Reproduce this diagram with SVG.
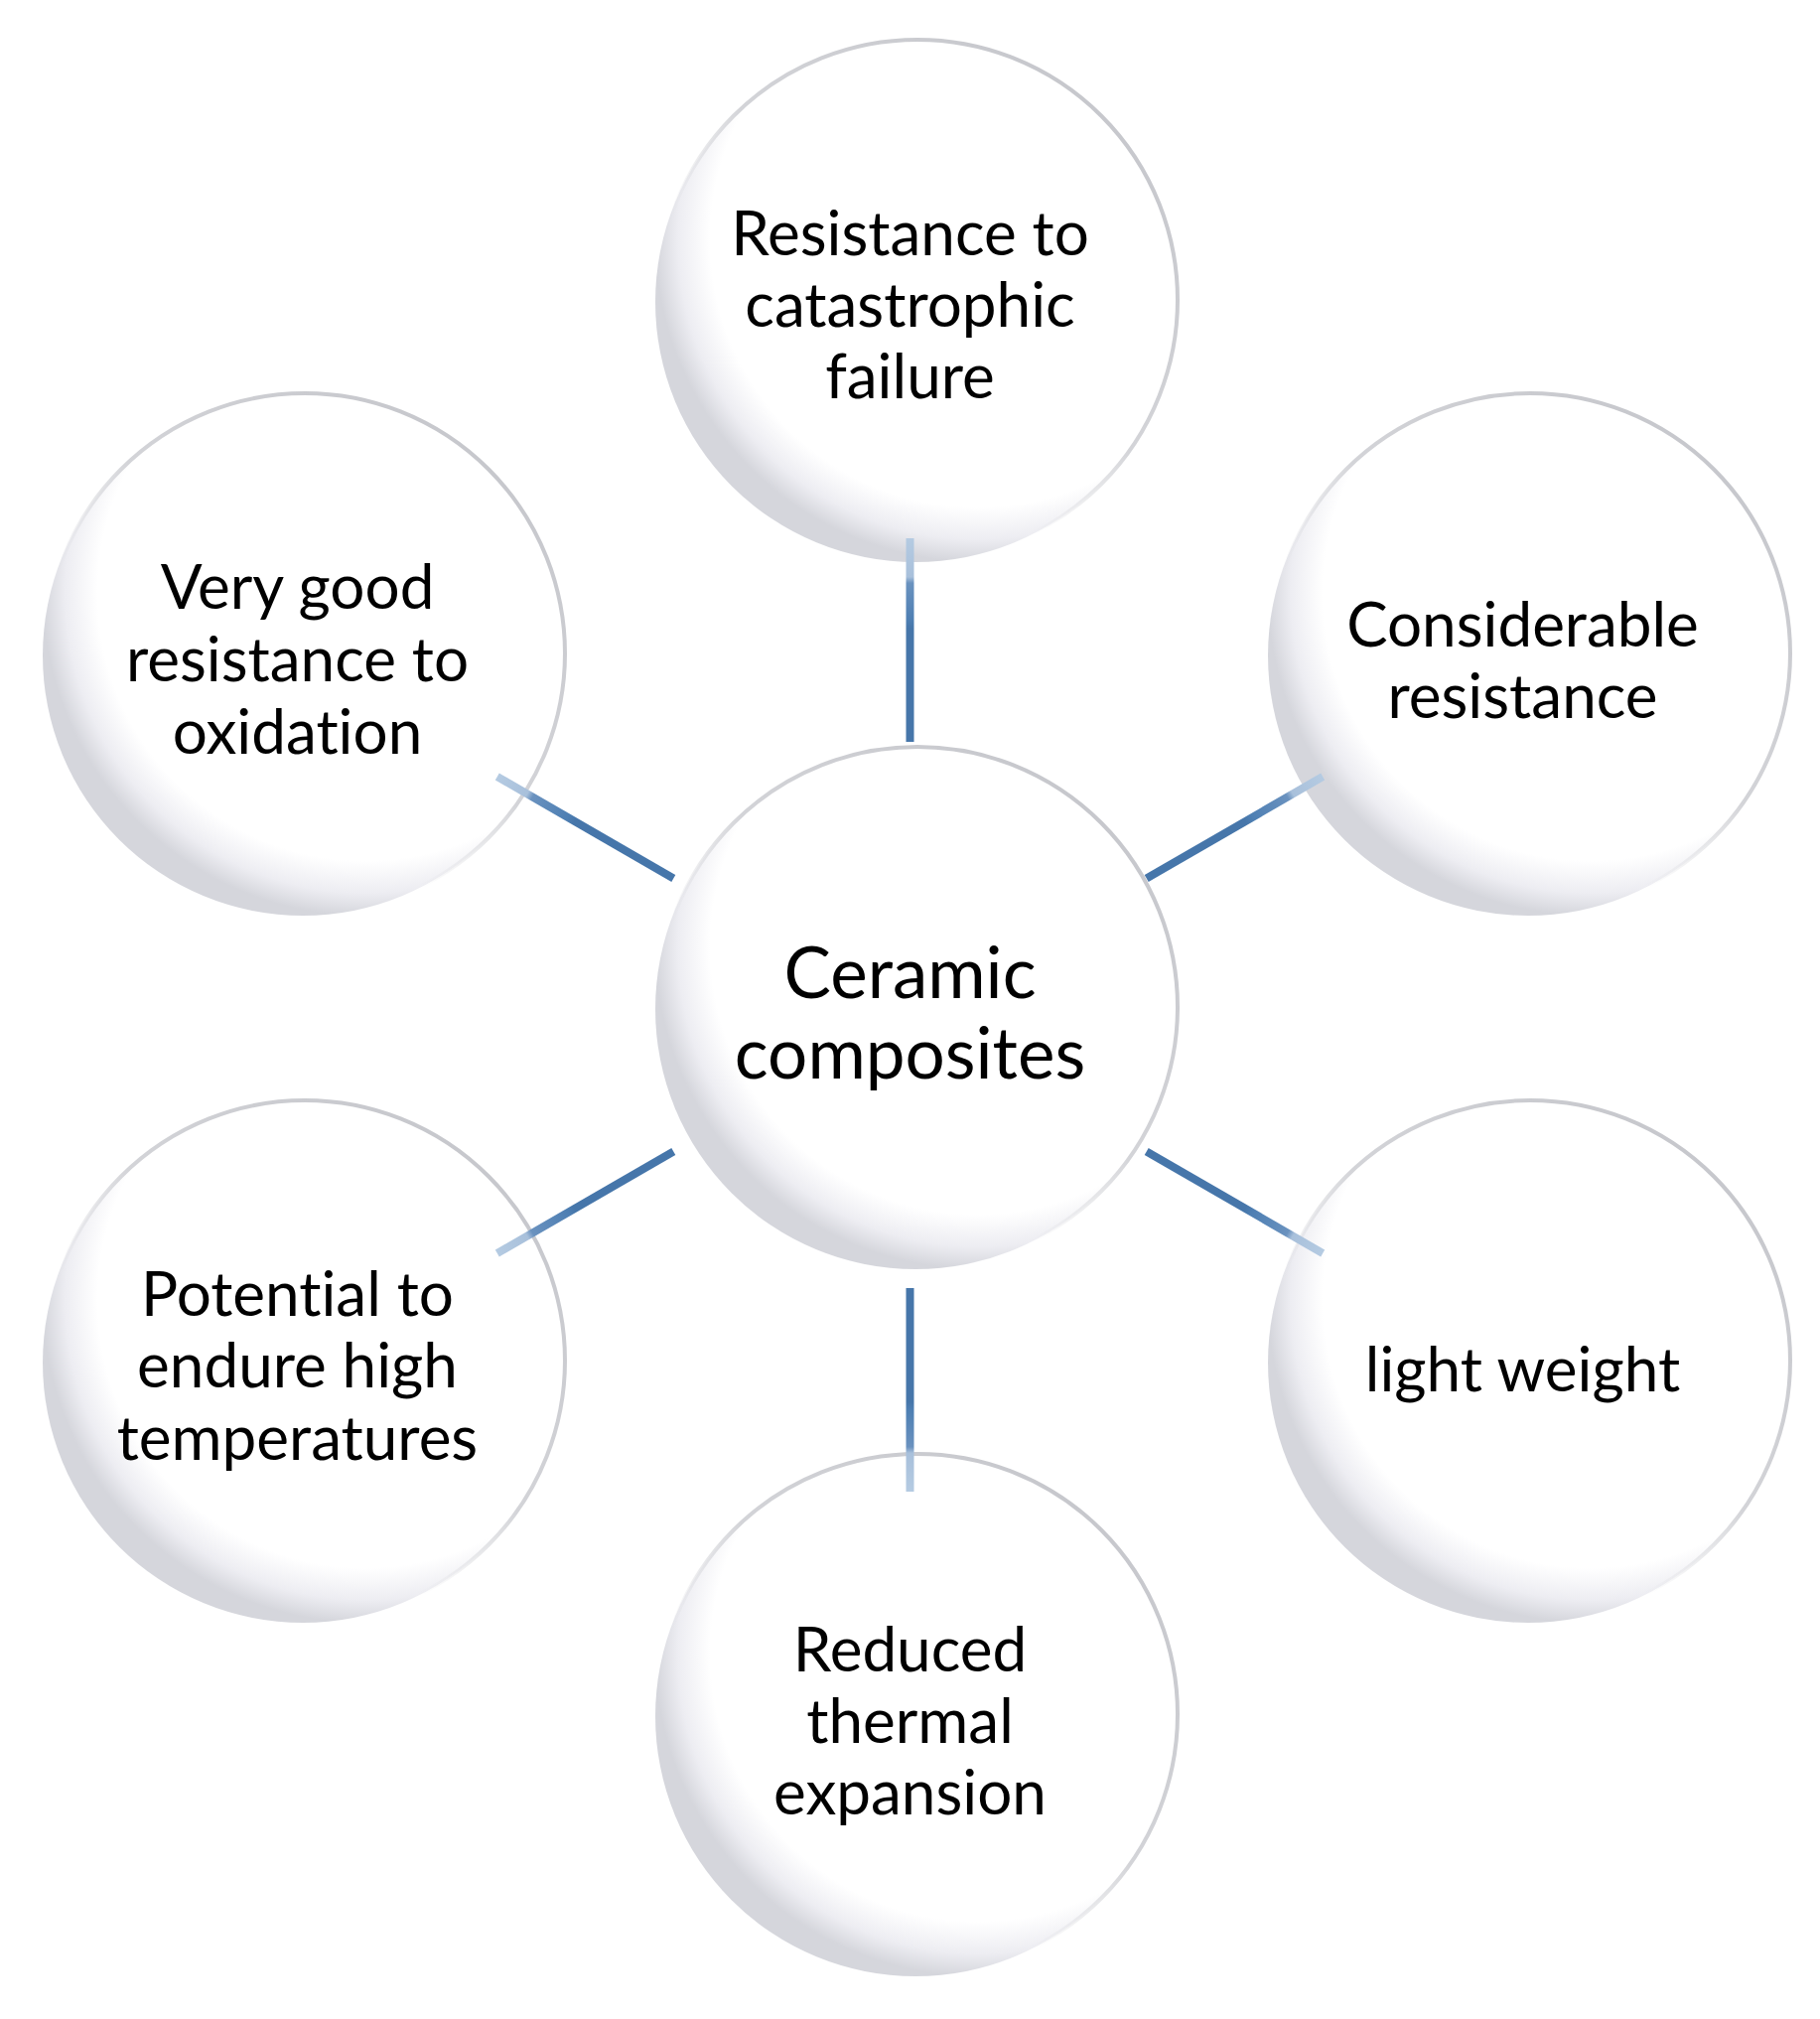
<svg xmlns="http://www.w3.org/2000/svg" width="1833" height="2033" viewBox="0 0 1833 2033">
  <defs>
    <radialGradient id="sphere" cx="0.62" cy="0.38" r="0.62" fx="0.62" fy="0.38">
      <stop offset="0" stop-color="#ffffff"/>
      <stop offset="0.83" stop-color="#ffffff"/>
      <stop offset="0.93" stop-color="#ededf2"/>
      <stop offset="1" stop-color="#d5d6dc"/>
    </radialGradient>
    <linearGradient id="rim" x1="0.85" y1="0.1" x2="0.15" y2="0.9">
      <stop offset="0" stop-color="#c6c7cc"/>
      <stop offset="0.45" stop-color="#c8c9ce" stop-opacity="0.8"/>
      <stop offset="0.68" stop-color="#d2d3d7" stop-opacity="0"/>
    </linearGradient>
    <linearGradient id="gT" gradientUnits="userSpaceOnUse" x1="916.5" y1="542" x2="916.5" y2="747">
      <stop offset="0" stop-color="#b5cbe2"/><stop offset="0.19" stop-color="#a8c0db"/>
      <stop offset="0.22" stop-color="#6a92bf"/><stop offset="0.4" stop-color="#4e7fb3"/>
      <stop offset="0.44" stop-color="#4676aa"/><stop offset="1" stop-color="#4676aa"/>
    </linearGradient>
    <linearGradient id="gB" gradientUnits="userSpaceOnUse" x1="916.5" y1="1502" x2="916.5" y2="1297">
      <stop offset="0" stop-color="#b5cbe2"/><stop offset="0.19" stop-color="#a8c0db"/>
      <stop offset="0.22" stop-color="#6a92bf"/><stop offset="0.4" stop-color="#4e7fb3"/>
      <stop offset="0.44" stop-color="#4676aa"/><stop offset="1" stop-color="#4676aa"/>
    </linearGradient>
    <linearGradient id="gTL" gradientUnits="userSpaceOnUse" x1="500.8" y1="782" x2="678.3" y2="884.5">
      <stop offset="0" stop-color="#b5cbe2"/><stop offset="0.17" stop-color="#a8c0db"/>
      <stop offset="0.2" stop-color="#6a92bf"/><stop offset="0.4" stop-color="#4e7fb3"/>
      <stop offset="0.44" stop-color="#4676aa"/><stop offset="1" stop-color="#4676aa"/>
    </linearGradient>
    <linearGradient id="gTR" gradientUnits="userSpaceOnUse" x1="1332.2" y1="782" x2="1154.7" y2="884.5">
      <stop offset="0" stop-color="#b5cbe2"/><stop offset="0.17" stop-color="#a8c0db"/>
      <stop offset="0.2" stop-color="#6a92bf"/><stop offset="0.4" stop-color="#4e7fb3"/>
      <stop offset="0.44" stop-color="#4676aa"/><stop offset="1" stop-color="#4676aa"/>
    </linearGradient>
    <linearGradient id="gBL" gradientUnits="userSpaceOnUse" x1="500.8" y1="1262" x2="678.3" y2="1159.5">
      <stop offset="0" stop-color="#b5cbe2"/><stop offset="0.17" stop-color="#a8c0db"/>
      <stop offset="0.2" stop-color="#6a92bf"/><stop offset="0.4" stop-color="#4e7fb3"/>
      <stop offset="0.44" stop-color="#4676aa"/><stop offset="1" stop-color="#4676aa"/>
    </linearGradient>
    <linearGradient id="gBR" gradientUnits="userSpaceOnUse" x1="1332.2" y1="1262" x2="1154.7" y2="1159.5">
      <stop offset="0" stop-color="#b5cbe2"/><stop offset="0.17" stop-color="#a8c0db"/>
      <stop offset="0.2" stop-color="#6a92bf"/><stop offset="0.4" stop-color="#4e7fb3"/>
      <stop offset="0.44" stop-color="#4676aa"/><stop offset="1" stop-color="#4676aa"/>
    </linearGradient>
  </defs>
  <style>
    .disk { fill: url(#sphere); }
    .rim { fill: none; stroke: url(#rim); stroke-width: 4; }
    .lbl { font-family: Lato, "Open Sans", "Liberation Sans", sans-serif; font-size: 62px; fill: #000000; text-anchor: middle; font-variant-ligatures: none; font-feature-settings: "liga" 0, "clig" 0; }
    .big { font-size: 71px; }
    .conn { stroke-width: 8; fill: none; }
  </style>
  <rect width="1833" height="2033" fill="#ffffff"/>

  <g id="node-center">
    <circle class="disk" cx="922" cy="1016" r="262"/>
    <circle class="rim" cx="924" cy="1014" r="262"/>
    <text class="lbl big" x="916.5" y="1005">Ceramic</text>
    <text class="lbl big" x="916.5" y="1086">composites</text>
  </g>
  <g id="node-top">
    <circle class="disk" cx="922" cy="304" r="262"/>
    <circle class="rim" cx="924" cy="302" r="262"/>
    <text class="lbl" x="916.5" y="257">Resistance to</text>
    <text class="lbl" x="916.5" y="329">catastrophic</text>
    <text class="lbl" x="916.5" y="401">failure</text>
  </g>
  <g id="node-top-right">
    <circle class="disk" cx="1539" cy="660" r="262"/>
    <circle class="rim" cx="1541" cy="658" r="262"/>
    <text class="lbl" x="1533.5" y="651">Considerable</text>
    <text class="lbl" x="1533.5" y="723">resistance</text>
  </g>
  <g id="node-bottom-right">
    <circle class="disk" cx="1539" cy="1372" r="262"/>
    <circle class="rim" cx="1541" cy="1370" r="262"/>
    <text class="lbl" x="1533.5" y="1401">light weight</text>
  </g>
  <g id="node-bottom">
    <circle class="disk" cx="922" cy="1728" r="262"/>
    <circle class="rim" cx="924" cy="1726" r="262"/>
    <text class="lbl" x="916.5" y="1683">Reduced</text>
    <text class="lbl" x="916.5" y="1755">thermal</text>
    <text class="lbl" x="916.5" y="1827">expansion</text>
  </g>
  <g id="node-bottom-left">
    <circle class="disk" cx="305" cy="1372" r="262"/>
    <circle class="rim" cx="307" cy="1370" r="262"/>
    <text class="lbl" x="299.5" y="1325">Potential to</text>
    <text class="lbl" x="299.5" y="1397">endure high</text>
    <text class="lbl" x="299.5" y="1470">temperatures</text>
  </g>
  <g id="node-top-left">
    <circle class="disk" cx="305" cy="660" r="262"/>
    <circle class="rim" cx="307" cy="658" r="262"/>
    <text class="lbl" x="299.5" y="613">Very good</text>
    <text class="lbl" x="299.5" y="686">resistance to</text>
    <text class="lbl" x="299.5" y="759">oxidation</text>
  </g>

  <g id="connectors">
    <line class="conn" stroke="url(#gT)" x1="916.5" y1="542" x2="916.5" y2="747"/>
    <line class="conn" stroke="url(#gB)" x1="916.5" y1="1502" x2="916.5" y2="1297"/>
    <line class="conn" stroke="url(#gTL)" x1="500.8" y1="782" x2="678.3" y2="884.5"/>
    <line class="conn" stroke="url(#gTR)" x1="1332.2" y1="782" x2="1154.7" y2="884.5"/>
    <line class="conn" stroke="url(#gBL)" x1="500.8" y1="1262" x2="678.3" y2="1159.5"/>
    <line class="conn" stroke="url(#gBR)" x1="1332.2" y1="1262" x2="1154.7" y2="1159.5"/>
  </g>
</svg>
